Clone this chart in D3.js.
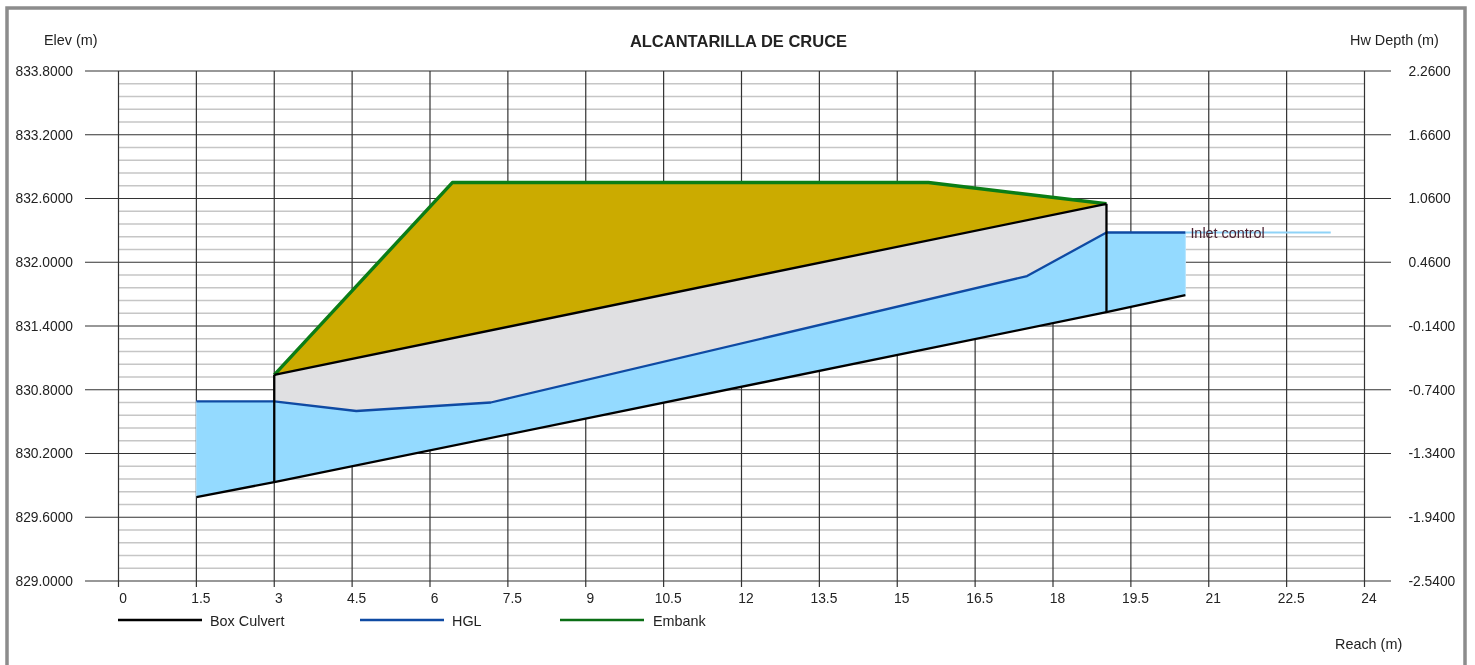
<!DOCTYPE html>
<html><head><meta charset="utf-8">
<script src="https://cdnjs.cloudflare.com/ajax/libs/d3/7.8.5/d3.min.js"></script>
<style>
html,body{margin:0;padding:0;background:#fff;overflow:hidden}
svg{filter:blur(0.35px)}
text{font-family:"Liberation Sans",Arial,sans-serif;fill:#222}
</style></head><body><svg id="c" width="1475" height="665"></svg>
<script>
const xTickValues=[0,1.5,3,4.5,6,7.5,9,10.5,12,13.5,15,16.5,18,19.5,21,22.5,24];
const elevTicks=[829,829.6,830.2,830.8,831.4,832,832.6,833.2,833.8];
const hwTicks=[-2.54,-1.94,-1.34,-0.74,-0.14,0.46,1.06,1.66,2.26];
const culvertStations=[1.5,3,19.03,20.55];
const culvertInvert=[829.79,829.93,831.53,831.69];
const crownStations=[3,19.03];
const crownElev=[830.94,832.55];
const hglStations=[1.5,3,4.58,7.17,17.5,19.03,20.55];
const hglElev=[830.69,830.69,830.60,830.68,831.87,832.28,832.28];
const embankStations=[3,6.43,15.6,19.03];
const embankElev=[830.94,832.75,832.75,832.55];
const inletStations=[20.55,23.35];
const inletElev=[832.28,832.28];
const legendNames=["Box Culvert","HGL","Embank"];
const legendColors=["#000000","#0f4aa3","#0a6e14"];
const embankColor="#0b7d16";

const svg=d3.select("#c");
const L=118.5,R=1364.5,T=71,B=581;
const x=d3.scaleLinear().domain([0,24]).range([L,R]);
const y=d3.scaleLinear().domain([829,833.8]).range([B,T]);
const yR=d3.scaleLinear().domain([-2.54,2.26]).range([B,T]);
const zip=(a,b)=>a.map((v,i)=>[v,b[i]]);
const line=d3.line().x(d=>x(d[0])).y(d=>y(d[1]));
const FONT='"Liberation Sans",Arial,sans-serif';

// frame
svg.append("rect").attr("x",7).attr("y",8).attr("width",1458).attr("height",680)
  .attr("fill","#fff").attr("stroke","#8c8c8c").attr("stroke-width",3.5);

// minor grid
const minor=[];
elevTicks.slice(0,-1).forEach(v=>{for(let k=1;k<5;k++)minor.push(v+k*0.12);});
svg.append("g").selectAll("line").data(minor).join("line")
  .attr("x1",L).attr("x2",R).attr("y1",d=>y(d)).attr("y2",d=>y(d))
  .attr("stroke","#c6c6c6").attr("stroke-width",1.4);

// major horizontal grid
svg.append("g").selectAll("line").data(elevTicks).join("line")
  .attr("x1",85).attr("x2",1391).attr("y1",d=>y(d)).attr("y2",d=>y(d))
  .attr("stroke","#333").attr("stroke-width",1.2);

// vertical grid
svg.append("g").selectAll("line").data(xTickValues).join("line")
  .attr("x1",d=>x(d)).attr("x2",d=>x(d)).attr("y1",T).attr("y2",B+6)
  .attr("stroke","#333").attr("stroke-width",1.2);

// axes labels
const fs=13.8, fsL=14.4;
const axB=d3.axisBottom(x).tickValues(xTickValues).tickSize(0).tickPadding(0).tickFormat(d3.format("~g"));
const gB=svg.append("g").attr("transform",`translate(4,${B+22})`).call(axB);
gB.select(".domain").remove();
gB.selectAll("text").attr("dy",0).attr("y",0).attr("font-size",fs).style("font-family",FONT);

const axL=d3.axisLeft(y).tickValues(elevTicks).tickSize(0).tickPadding(0).tickFormat(d3.format(".4f"));
const gL=svg.append("g").attr("transform","translate(73,0)").call(axL);
gL.select(".domain").remove();
gL.selectAll("text").attr("font-size",fs).style("font-family",FONT);

const axR=d3.axisRight(yR).tickValues(hwTicks).tickSize(0).tickPadding(0).tickFormat(v=>d3.format(".4f")(v).replace("\u2212","-"));
const gR=svg.append("g").attr("transform","translate(1408.5,0)").call(axR);
gR.select(".domain").remove();
gR.selectAll("text").attr("font-size",fs).style("font-family",FONT);

// fills
const invert=zip(culvertStations,culvertInvert);
const hgl=zip(hglStations,hglElev);
const crown=zip(crownStations,crownElev);
const embank=zip(embankStations,embankElev);
const inlet=zip(inletStations,inletElev);

svg.append("path").attr("d",line(embank.concat(crown.slice().reverse()))+"Z").attr("fill","#cbab00");
svg.append("path").attr("d",line(crown.concat(hgl.slice(1,6).reverse()))+"Z").attr("fill","#e0e0e2");
svg.append("path").attr("d",line(hgl.concat(invert.slice().reverse()))+"Z").attr("fill","#94daff").attr("stroke","#b5e5ff").attr("stroke-width",1);

// inlet control leader
svg.append("path").attr("d",line(inlet)).attr("fill","none").attr("stroke","#8fd3f7").attr("stroke-width",2);

// lines
const ln=(d,c,w)=>svg.append("path").attr("d",line(d)).attr("fill","none").attr("stroke",c).attr("stroke-width",w).attr("stroke-linejoin","round");
ln(hgl,legendColors[1],2.3);
ln(embank,embankColor,3.4);
ln(invert,legendColors[0],2.3);
ln(crown,legendColors[0],2.3);
crownStations.forEach((s,i)=>{
  const bot=d3.scaleLinear().domain(culvertStations).range(culvertInvert)(s);
  ln([[s,crownElev[i]],[s,bot]],legendColors[0],2.3);
});

// inlet label, drawn over the leader line and the grid
svg.append("text").attr("x",x(inletStations[0])+5).attr("y",y(inletElev[0])+5).attr("font-size",14.4).style("fill","#4a2030").text("Inlet control");

// titles
svg.append("text").attr("x",738.5).attr("y",47).attr("text-anchor","middle").attr("font-size",16.5).attr("font-weight","bold").text("ALCANTARILLA DE CRUCE");
svg.append("text").attr("x",44).attr("y",45).attr("font-size",fsL).text("Elev (m)");
svg.append("text").attr("x",1350).attr("y",45).attr("font-size",fsL).text("Hw Depth (m)");
svg.append("text").attr("x",1335).attr("y",649).attr("font-size",fsL).text("Reach (m)");

// legend
const legX=[118,360,560];
const legTextX=[210,452,653];
legendNames.forEach((n,i)=>{
  svg.append("line").attr("x1",legX[i]).attr("x2",legX[i]+84).attr("y1",620).attr("y2",620).attr("stroke",legendColors[i]).attr("stroke-width",2.6);
  svg.append("text").attr("x",legTextX[i]).attr("y",626).attr("font-size",fsL).text(n);
});
</script></body></html>
